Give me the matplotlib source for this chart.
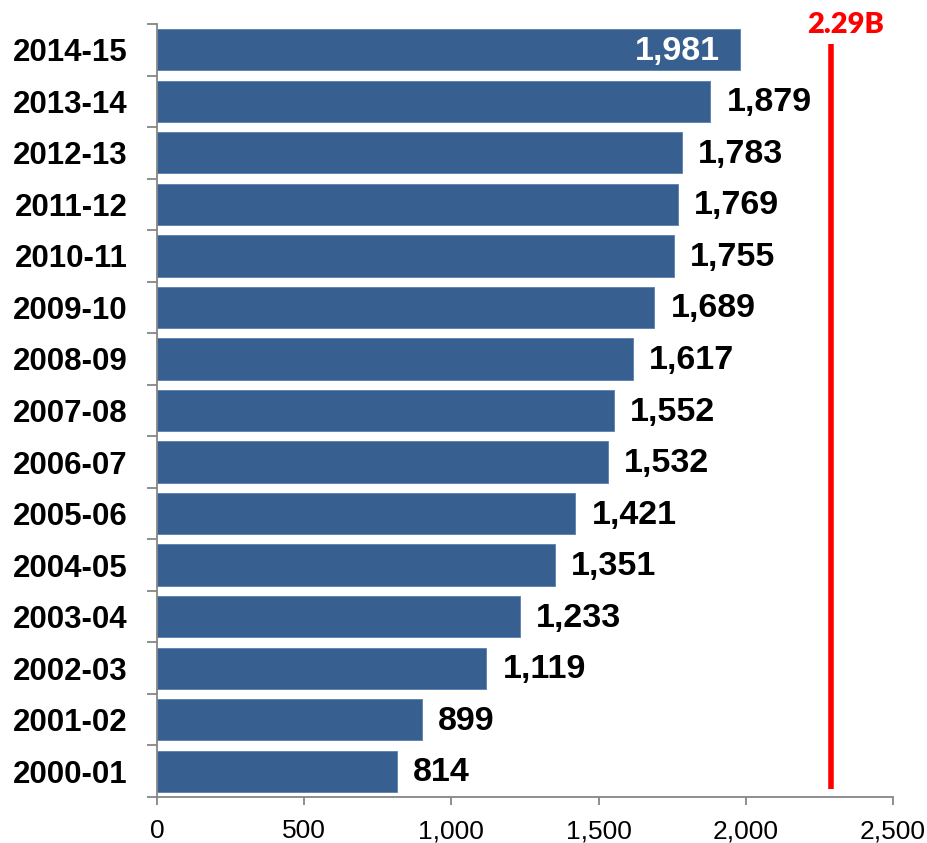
import matplotlib
matplotlib.use("Agg")
import matplotlib.pyplot as plt
import numpy as np

years = ["2000-01", "2001-02", "2002-03", "2003-04", "2004-05", "2005-06", "2006-07",
         "2007-08", "2008-09", "2009-10", "2010-11", "2011-12", "2012-13", "2013-14", "2014-15"]
values = [814, 899, 1119, 1233, 1351, 1421, 1532, 1552, 1617, 1689, 1755, 1769, 1783, 1879, 1981]
ref_value = 2290
ref_label = "2.29B"
xticks = [0, 500, 1000, 1500, 2000, 2500]
xtick_labels = ["0", "500", "1,000", "1,500", "2,000", "2,500"]

plt.rcParams['font.family'] = ['Liberation Sans', 'DejaVu Sans']

fig = plt.figure(figsize=(9.28, 8.43), dpi=100)
ax = fig.add_axes([0.1692, 0.0546, 0.9623 - 0.1692, 0.9715 - 0.0546])

bar_color = '#376091'
pos = np.arange(len(years))
ax.barh(pos, values, height=0.8, color=bar_color, edgecolor='#5a7fae', linewidth=0.6, zorder=2)

ax.set_xlim(0, 2500)
ax.set_ylim(-0.5, len(years) - 0.5)

# value labels
for i, v in enumerate(values):
    txt = f"{v:,}"
    if i == len(values) - 1:
        ax.text(v - 70, i - 0.03, txt, ha='right', va='center', color='white',
                fontsize=24.5, fontweight='bold')
    else:
        ax.text(v + 55, i - 0.03, txt, ha='left', va='center', color='black',
                fontsize=24.5, fontweight='bold')

# reference line
ax.plot([ref_value, ref_value], [-0.35, 14.12], color='#ff0000', linewidth=4,
        solid_capstyle='butt', zorder=3, clip_on=False)
ax.text(ref_value + 50, 0.999, ref_label, transform=ax.get_xaxis_transform(),
        ha='center', va='center', color='#ff0000', fontsize=21, fontweight='heavy',
        family=['Lato', 'DejaVu Sans'], clip_on=False)

# y axis: labels at centers, ticks at boundaries
ax.set_yticks(pos)
ax.set_yticklabels(years, fontsize=22.5, fontweight='bold')
ax.tick_params(axis='y', which='major', length=0, pad=21)
ax.set_yticks(np.arange(-0.5, len(years)), minor=True)
ax.tick_params(axis='y', which='minor', length=7, width=1.3, color='#868686', direction='out')

ax.set_xticks(xticks)
ax.set_xticklabels(xtick_labels, fontsize=19)
ax.tick_params(axis='x', which='major', length=6, width=1.3, color='#868686', pad=10)

for s in ['top', 'right']:
    ax.spines[s].set_visible(False)
for s in ['left', 'bottom']:
    ax.spines[s].set_color('#868686')
    ax.spines[s].set_linewidth(1.3)

fig.savefig('out.png', dpi=100)
